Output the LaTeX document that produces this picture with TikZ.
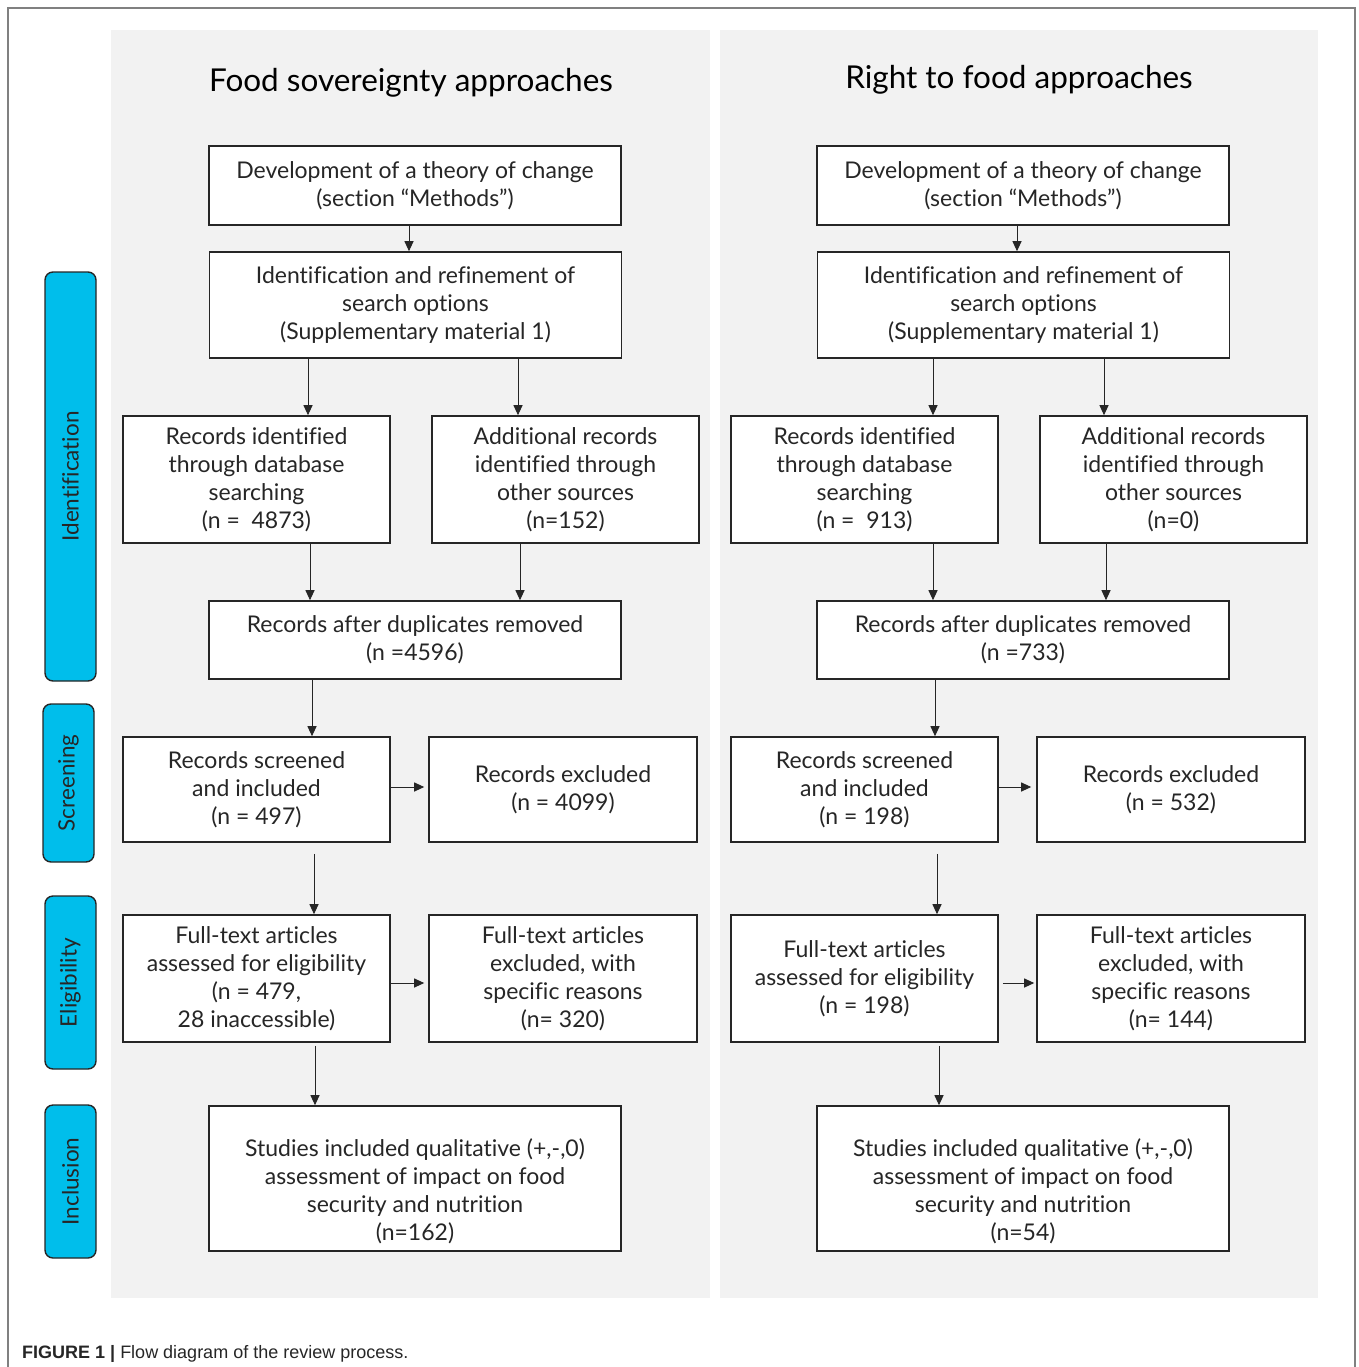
\documentclass[tikz,border=0pt]{standalone}
\usepackage{fontspec}
\setmainfont{Lato}[Ligatures={TeX,NoCommon}]
\newfontfamily\capfont{Liberation Sans}
\usepackage{tikz}
\usetikzlibrary{calc,arrows.meta}

\definecolor{panelgray}{HTML}{F2F2F2}
\definecolor{tabblue}{HTML}{00BEEB}
\definecolor{inkgray}{HTML}{262626}

% pushes the first line of a box down a little
\newcommand{\lowstrut}{\rule{0pt}{44pt}}

\tikzset{
  box/.style={draw=inkgray, line width=1.6pt, fill=white, align=center, text=inkgray,
    inner sep=0pt, font=\fontsize{23}{28}\selectfont},
  wide/.style={box, minimum width=412pt},
  small/.style={box, minimum width=267pt},
  tab/.style={draw=inkgray, line width=1.4pt, fill=tabblue, rounded corners=8pt, rotate=90,
    minimum height=51pt, inner sep=0pt, text=inkgray, font=\fontsize{22.5}{24}\selectfont},
  title/.style={text=black, font=\fontsize{31.5}{34}\selectfont},
  arr/.style={draw=inkgray, line width=1pt, -{Triangle[length=10pt,width=9pt]}}
}

\begin{document}
\begin{tikzpicture}[x=1pt,y=-1pt]
    \useasboundingbox (0,0) rectangle (1358,1367);

    % Frame and panels
    \draw[gray, line width=1.5pt] (8,1367) -- (8,8) -- (1355,8) -- (1355,1367);
    \fill[panelgray] (111,30) rectangle (710,1298);
    \fill[panelgray] (720,30) rectangle (1318,1298);

    % Stage tabs
    \node[tab, minimum width=409pt] (tabid) at (70.5,476.5) {Identification};
    \node[tab, minimum width=158pt] (tabscr) at (68.5,783) {Screening};
    \node[tab, minimum width=173pt] (tabel) at (70.5,982.5) {Eligibility};
    \node[tab, minimum width=153pt] (tabinc) at (70.5,1181.5) {Inclusion};

    % Titles
    \node[title] (fstitle) at (411,83) {Food sovereignty approaches};
    \node[title] (rftitle) at (1019,80) {Right to food approaches};

    % Left column: food sovereignty
    \node[wide, minimum height=79pt] (fsdev) at (415,185.5) {Development of a theory of change\\(section “Methods”)};
    \node[wide, minimum height=106pt] (fsident) at (415.5,305) {Identification and refinement of\\search options\\(Supplementary material 1)};
    \node[small, minimum height=127pt] (fsdb) at (256.5,479.5) {Records identified\\through database\\searching\\(n =\ \ 4873)};
    \node[small, minimum height=127pt] (fsadd) at (565.5,479.5) {Additional records\\identified through\\other sources\\(n=152)};
    \node[wide, minimum height=78pt] (fsdup) at (415,640) {Records after duplicates removed\\(n =4596)};
    \node[small, minimum height=105pt] (fsscr) at (256.5,789.5) {Records screened\\and included\\(n = 497)};
    \node[small, minimum height=105pt, minimum width=268pt] (fsexc) at (563,789.5) {Records excluded\\(n = 4099)};
    \node[small, minimum height=127pt] (fsft) at (256.5,978.5) {Full-text articles\\assessed for eligibility\\(n = 479,\\28 inaccessible)};
    \node[small, minimum height=127pt, minimum width=268pt] (fsftx) at (563,978.5) {Full-text articles\\excluded, with\\specific reasons\\(n= 320)};
    \node[wide, minimum height=145pt] (fsstu) at (415,1178.5) {\lowstrut Studies included qualitative (+,-,0)\\assessment of impact on food\\security and nutrition\\(n=162)};

    % Right column: right to food
    \node[wide, minimum height=79pt] (rfdev) at (1023,185.5) {Development of a theory of change\\(section “Methods”)};
    \node[wide, minimum height=106pt] (rfident) at (1023.5,305) {Identification and refinement of\\search options\\(Supplementary material 1)};
    \node[small, minimum height=127pt] (rfdb) at (864.5,479.5) {Records identified\\through database\\searching\\(n =\ \ 913)};
    \node[small, minimum height=127pt] (rfadd) at (1173.5,479.5) {Additional records\\identified through\\other sources\\(n=0)};
    \node[wide, minimum height=78pt] (rfdup) at (1023,640) {Records after duplicates removed\\(n =733)};
    \node[small, minimum height=105pt] (rfscr) at (864.5,789.5) {Records screened\\and included\\(n = 198)};
    \node[small, minimum height=105pt, minimum width=268pt] (rfexc) at (1171,789.5) {Records excluded\\(n = 532)};
    \node[small, minimum height=127pt] (rfft) at (864.5,978.5) {Full-text articles\\assessed for eligibility\\(n = 198)};
    \node[small, minimum height=127pt, minimum width=268pt] (rfftx) at (1171,978.5) {Full-text articles\\excluded, with\\specific reasons\\(n= 144)};
    \node[wide, minimum height=145pt] (rfstu) at (1023,1178.5) {\lowstrut Studies included qualitative (+,-,0)\\assessment of impact on food\\security and nutrition\\(n=54)};

    % Arrows, left
    \draw[arr] (fsdev.south -| 409,0) -- (fsident.north -| 409,0);
    \draw[arr] (fsident.south -| 308,0) -- (fsdb.north -| 308,0);
    \draw[arr] (fsident.south -| 518,0) -- (fsadd.north -| 518,0);
    \draw[arr] (fsdb.south -| 310,0) -- (fsdup.north -| 310,0);
    \draw[arr] (fsadd.south -| 520,0) -- (fsdup.north -| 520,0);
    \draw[arr] (fsdup.south -| 312,0) -- (fsscr.north -| 312,0);
    \draw[arr] ($(fsscr.south -| 314,0)+(0,11)$) -- (fsft.north -| 314,0);
    \draw[arr] ($(fsft.south -| 315,0)+(0,3)$) -- (fsstu.north -| 315,0);
    \draw[arr, shorten >=4pt] (fsscr.east |- 0,787) -- (fsexc.west |- 0,787);
    \draw[arr, shorten >=4pt] (fsft.east |- 0,983) -- (fsftx.west |- 0,983);

    % Arrows, right
    \draw[arr] (rfdev.south -| 1017,0) -- (rfident.north -| 1017,0);
    \draw[arr] (rfident.south -| 933,0) -- (rfdb.north -| 933,0);
    \draw[arr] (rfident.south -| 1104,0) -- (rfadd.north -| 1104,0);
    \draw[arr] (rfdb.south -| 933,0) -- (rfdup.north -| 933,0);
    \draw[arr] (rfadd.south -| 1106,0) -- (rfdup.north -| 1106,0);
    \draw[arr] (rfdup.south -| 935,0) -- (rfscr.north -| 935,0);
    \draw[arr] ($(rfscr.south -| 937,0)+(0,11)$) -- (rfft.north -| 937,0);
    \draw[arr] ($(rfft.south -| 939,0)+(0,3)$) -- (rfstu.north -| 939,0);
    \draw[arr, shorten >=5pt] (rfscr.east |- 0,787) -- (rfexc.west |- 0,787);
    \draw[arr, shorten <=4pt, shorten >=2pt] (rfft.east |- 0,983) -- (rfftx.west |- 0,983);

    % Caption
    \node[anchor=base west, inner sep=0pt, font=\capfont\fontsize{18}{21}\selectfont, text=black!85] (caption) at (22,1358)
      {\textbf{FIGURE 1 |} Flow diagram of the review process.};
\end{tikzpicture}
\end{document}
